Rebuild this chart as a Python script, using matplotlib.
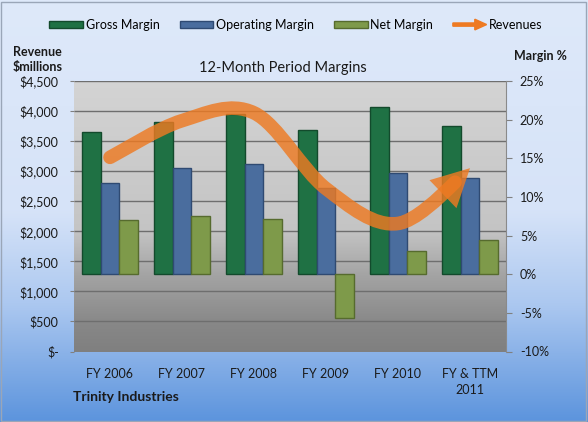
import matplotlib.pyplot as plt
import numpy as np
from matplotlib.patches import Patch, PathPatch, FancyArrow, Rectangle
from matplotlib.path import Path
from matplotlib.legend_handler import HandlerPatch
from matplotlib.transforms import blended_transform_factory
from matplotlib.ticker import FuncFormatter

plt.rcParams['font.family'] = ['Lato', 'DejaVu Sans']

periods = ["FY 2006", "FY 2007", "FY 2008", "FY 2009", "FY 2010", "FY & TTM\n2011"]
gross_margin = [18.4, 19.7, 20.7, 18.7, 21.6, 19.2]
operating_margin = [11.8, 13.8, 14.3, 11.1, 13.1, 12.4]
net_margin = [7.0, 7.5, 7.2, -5.7, 3.0, 4.4]
revenues = [3230, 3840, 3970, 2710, 2130, 3050]

margin_ticks = list(range(-10, 30, 5))
revenue_ticks = list(range(0, 5000, 500))

green, blue, olive, orange = "#1F7144", "#4A6D9E", "#7E9A4A", "#EE7A22"
green_e, blue_e, olive_e = "#134A2C", "#2F4A72", "#566B2E"

fig = plt.figure(figsize=(5.88, 4.22), dpi=100)

# figure background: light blue fading to a deeper blue at the bottom
bg = fig.add_axes([0, 0, 1, 1], zorder=-10)
stops = np.array([0.0, 0.5, 0.72, 1.0])
cols = np.array([[222, 233, 250], [214, 227, 248], [172, 200, 240], [92, 148, 221]]) / 255
t = np.linspace(0, 1, 256)
grad = np.stack([np.interp(t, stops, cols[:, k]) for k in range(3)], axis=-1)
bg.imshow(grad[:, None, :], aspect="auto", extent=[0, 1, 0, 1])
bg.add_patch(Rectangle((0.002, 0.003), 0.995, 0.993, fill=False, ec="#9AA6B8", lw=1))
bg.set_axis_off()

# margins axes (bars)
ax = fig.add_axes([74 / 588, 1 - 351.5 / 422, 432 / 588, 270.5 / 422])
pstops = np.array([0.0, 0.55, 0.72, 0.9, 1.0])
pvals = np.array([0.83, 0.77, 0.64, 0.53, 0.50])
pg = np.interp(t, pstops, pvals)
ax.imshow(np.repeat(pg[:, None, None], 3, axis=2), aspect="auto",
          extent=[0, 1, 0, 1], transform=ax.transAxes, zorder=0)

x = np.arange(len(periods))
w = 0.258
ax.bar(x - w, gross_margin, w, color=green, edgecolor=green_e, lw=1, zorder=3)
ax.bar(x, operating_margin, w, color=blue, edgecolor=blue_e, lw=1, zorder=3)
ax.bar(x + w, net_margin, w, color=olive, edgecolor=olive_e, lw=1, zorder=3)
ax.set_xlim(-0.5, len(periods) - 0.5)
ax.set_ylim(-10, 25)
ax.set_xticks(x)
ax.set_xticklabels(periods, fontsize=9, color="#1a1a1a", linespacing=1.4)
ax.tick_params(axis="x", length=0, pad=12)

# revenue axes on the left (twin, drawn above the bars)
axr = ax.twinx()
axr.set_ylim(0, 4500)
axr.set_yticks(revenue_ticks)
axr.yaxis.tick_left()
axr.yaxis.set_major_formatter(FuncFormatter(lambda v, p: "$-" if v == 0 else f"${v:,.0f}"))
axr.tick_params(axis="y", length=3, color="#808080", labelsize=9, labelcolor="#1a1a1a", pad=8)
for s in axr.spines.values():
    s.set_visible(False)

# margin ticks on the right (after twinx, which resets them)
ax.set_yticks(margin_ticks)
ax.yaxis.tick_right()
ax.yaxis.set_major_formatter(FuncFormatter(lambda v, p: f"{v:.0f}%"))
ax.tick_params(axis="y", length=4, color="#808080", labelsize=9, labelcolor="#1a1a1a", pad=6)
for s in ["left", "top", "bottom"]:
    ax.spines[s].set_visible(False)
ax.spines["right"].set_color("#8a8a8a")

# gridlines follow the revenue scale but sit behind the bars
gtr = blended_transform_factory(ax.transAxes, axr.transData)
ax.hlines(revenue_ticks[1:], 0, 1, transform=gtr, colors="#6e6e6e", lw=1, zorder=1)

# smoothed revenue curve (Catmull-Rom as Bezier)
P = np.column_stack([x, revenues]).astype(float)
n = len(P)
verts = [P[0]]
codes = [Path.MOVETO]
segs = []
for i in range(n - 1):
    p_prev = P[max(i - 1, 0)]
    p_next2 = P[min(i + 2, n - 1)]
    c1 = P[i] + (P[i + 1] - p_prev) / 6
    c2 = P[i + 1] - (p_next2 - P[i]) / 6
    segs.append((P[i], c1, c2, P[i + 1]))

# cut the last segment short so the band stops inside the arrow head
p0, c1, c2, p3 = segs[-1]
tc = 0.72
a = p0 + (c1 - p0) * tc
b = c1 + (c2 - c1) * tc
c = c2 + (p3 - c2) * tc
d = a + (b - a) * tc
e = b + (c - b) * tc
f = d + (e - d) * tc
segs[-1] = (p0, a, d, f)
for s0, s1, s2, s3 in segs:
    verts += [s1, s2, s3]
    codes += [Path.CURVE4] * 3

lw_band = 9.8
axr.add_patch(PathPatch(Path(verts, codes), fill=False, ec=orange, lw=lw_band,
                        alpha=0.82, capstyle="round", zorder=5))
axr.annotate("", xy=p3, xytext=d,
             arrowprops=dict(arrowstyle="-|>,head_length=27,head_width=14",
                             mutation_scale=1, lw=0, color=orange, alpha=0.82,
                             shrinkA=0, shrinkB=0), zorder=5)


def make_arrow(legend, orig_handle, xdescent, ydescent, width, height, fontsize):
    return FancyArrow(-xdescent, -ydescent + height / 2, width, 0, width=height * 0.45,
                      head_width=height * 1.5, head_length=width * 0.35,
                      length_includes_head=True, color=orange, lw=0)


handles = [Patch(fc=green, ec=green_e), Patch(fc=blue, ec=blue_e),
           Patch(fc=olive, ec=olive_e), FancyArrow(0, 0, 1, 0, color=orange)]
labels = ["Gross Margin", "Operating Margin", "Net Margin", "Revenues"]
fig.legend(handles, labels, loc="center", bbox_to_anchor=(296 / 588, 1 - 25 / 422), ncol=4,
           frameon=False, fontsize=9, handlelength=2.7, handleheight=0.5,
           handletextpad=0.2, columnspacing=1.6,
           handler_map={FancyArrow: HandlerPatch(patch_func=make_arrow)})

fig.text(283 / 588, 1 - 68 / 422, "12-Month Period Margins", ha="center", va="center",
         fontsize=10.5, color="#1a1a1a")
fig.text(13 / 588, 1 - 59 / 422, "Revenue\n$millions", ha="left", va="center",
         fontsize=9, fontweight="bold", linespacing=1.3, color="#1a1a1a")
fig.text(514 / 588, 1 - 56 / 422, "Margin %", ha="left", va="center",
         fontsize=9, fontweight="bold", color="#1a1a1a")
fig.text(73 / 588, 1 - 397 / 422, "Trinity Industries", ha="left", va="center",
         fontsize=10, fontweight="bold", color="#1a1a1a")

fig.savefig("out.png", dpi=100)
